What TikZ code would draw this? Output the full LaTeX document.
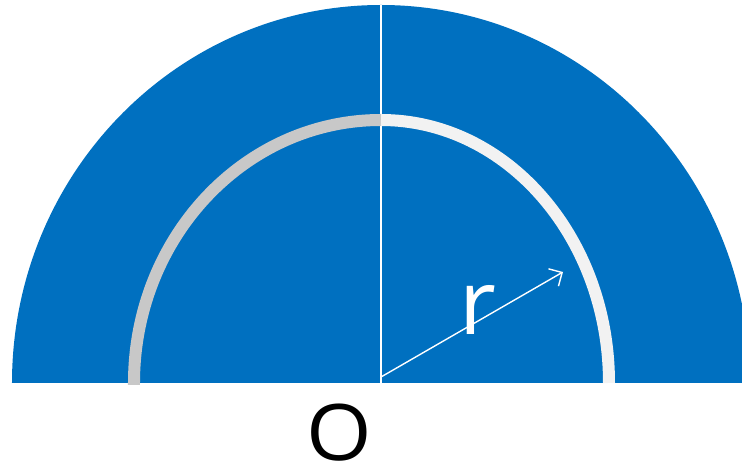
\documentclass[tikz,border=0pt]{standalone}
\usepackage{fontspec}
\setmainfont{Open Sans}
\usetikzlibrary{arrows.meta}

\definecolor{plateblue}{HTML}{0070C0}
\definecolor{ringgray}{HTML}{C8C8C8}
\definecolor{ringwhite}{HTML}{F2F2F2}

\tikzstyle{ring}=[line width=12pt, line cap=butt]

\begin{document}
\begin{tikzpicture}[x=1pt, y=1pt]
	
	\def\Rx{369} % outer radii of the half plate
	\def\Ry{378}
	\def\ry{263} % height of the inner ring
	
	\useasboundingbox (-381,-90) rectangle (361,383);
	\clip (-381,-90) rectangle (361,383);
	
	\coordinate (O) at (0,0);
	\coordinate (base) at (0,6);
	\coordinate (tip) at (182,111);
	
	% Half plate and its middle line
	\fill[plateblue] (-\Rx,0) arc[start angle=180, end angle=0, x radius=\Rx, y radius=\Ry] -- cycle;
	\draw[white, line width=1.5pt] (O) -- (0,\Ry);
	
	% Inner ring, left and right halves
	\draw[ring, ringgray] (-247,-2) -- (-247,0) arc[start angle=180, end angle=90, x radius=247, y radius=\ry];
	\draw[ring, ringwhite] (0,\ry) arc[start angle=90, end angle=0, x radius=228, y radius=\ry];
	
	% Radius
	\draw[white, line width=1.4pt, -{Straight Barb[length=10pt, width=20pt]}] (base) -- (tip);
	\node[white, inner sep=0pt, font=\fontsize{90}{90}\selectfont] (rlabel) at (97,73) {r};
	\node[black, inner sep=0pt, xscale=1.08, font=\fontsize{78}{78}\selectfont] (olabel) at (-42,-50) {O};
	
\end{tikzpicture}
\end{document}
